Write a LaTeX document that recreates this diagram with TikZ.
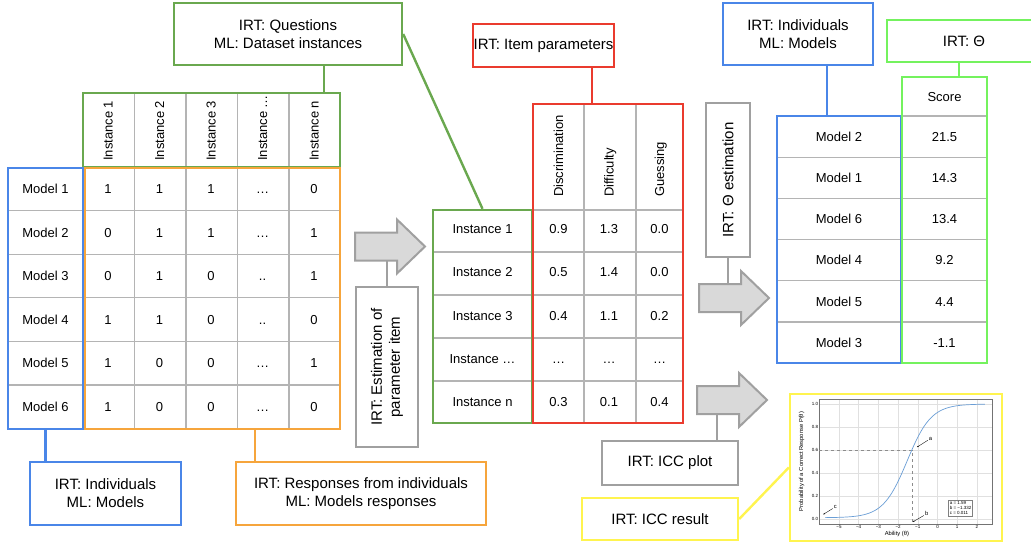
\documentclass[tikz,border=0pt]{standalone}
\usepackage{fontspec}
\setmainfont{Liberation Sans}
\usetikzlibrary{positioning,calc,arrows.meta}

\definecolor{dsgreen}{HTML}{6AA84F}
\definecolor{indblue}{HTML}{4A86E8}
\definecolor{resporange}{HTML}{F6A53C}
\definecolor{parred}{HTML}{EA3B2E}
\definecolor{scoregreen}{HTML}{74F25E}
\definecolor{iccyellow}{HTML}{FFF44F}
\definecolor{boxgray}{HTML}{A0A0A0}
\definecolor{arrowfill}{HTML}{D9D9D9}
\definecolor{gridgray}{HTML}{B4B4B4}
\definecolor{curveblue}{HTML}{6A9ED6}

\newcommand{\iccfont}{\fontsize{4.5}{5.2}\selectfont}
\newcommand{\iccaxisfont}{\fontsize{5.8}{7}\selectfont}
\newcommand{\twodot}{..}

\tikzset{%
	infobox/.style  = {draw, line width=2.4pt, fill=white, rectangle, align=center, inner sep=0pt, font=\fontsize{15}{18}\selectfont},
	tablebox/.style = {draw, line width=2.4pt, rectangle, inner sep=0pt},
	cell/.style     = {inner sep=0pt, text height=9.4pt, text depth=0pt, font=\fontsize{13}{15}\selectfont},
	icctext/.style  = {inner sep=1pt, font=\iccfont},
	iccaxis/.style  = {inner sep=1pt, font=\iccaxisfont},
	gridline/.style = {gridgray, line width=1.2pt},
	conn/.style     = {line width=2.4pt},
	iccgrid/.style  = {black!12, line width=0.4pt},
	arrowbody/.style= {draw=boxgray, fill=arrowfill, line width=2pt, line join=miter},
	bigarrow/.pic   = {
		\draw[arrowbody] (0,-14) -- (42,-14) -- (42,-27) -- (70,0) -- (42,27) -- (42,14) -- (0,14) -- cycle;
		\coordinate (-top) at (0,-14);
		\coordinate (-bot) at (0,14);
	},
}

\begin{document}
\begin{tikzpicture}[x=1pt,y=-1pt]
	\useasboundingbox (0,0) rectangle (1031,543);
	
	% left table: models x instances
	\foreach \gx in {134.5,186,237.5,289} \draw[gridline] (\gx,93) -- (\gx,429);
	\foreach \k in {1,...,5} \draw[gridline] (8,{167+43.6*\k}) -- (340,{167+43.6*\k});
	\node[tablebox, draw=dsgreen, minimum width=257, minimum height=74] (hdrL) at (211.5,130) {};
	\node[tablebox, draw=indblue, minimum width=75, minimum height=261] (modelsL) at (45.5,298.5) {};
	\node[tablebox, draw=resporange, minimum width=255, minimum height=261] (respL) at (212.5,298.5) {};
	
	\foreach \h [count=\i] in {Instance 1,Instance 2,Instance 3,Instance …,Instance n}
		\node[cell, rotate=90, anchor=west] (hL\i) at ({108+(\i-1)*51.5},161) {\h};
	\foreach \j in {1,...,6} \node[cell] (mL\j) at (45.5,{167+43.6*(\j-0.5)}) {Model \j};
	\foreach \row [count=\j] in {{1,1,1,…,0},{0,1,1,…,1},{0,1,0,\twodot,1},{1,1,0,\twodot,0},{1,0,0,…,1},{1,0,0,…,0}}
		\foreach \v [count=\i] in \row
			\node[cell] (dL\j\i) at ({108+(\i-1)*51.5},{167+43.6*(\j-0.5)}) {\v};
	
	% middle table: item parameters
	\foreach \gx in {584,636} \draw[gridline] (\gx,104) -- (\gx,423);
	\draw[gridline] (533,210) -- (683,210);
	\foreach \gy in {252,295,338,381} \draw[gridline] (433,\gy) -- (683,\gy);
	\node[tablebox, draw=dsgreen, minimum width=99, minimum height=213] (instL) at (482.5,316.5) {};
	\node[tablebox, draw=parred, minimum width=150, minimum height=319] (parR) at (608,263.5) {};
	
	\foreach \h [count=\i] in {Discrimination,Difficulty,Guessing}
		\node[cell, rotate=90, anchor=west] (hP\i) at ({558.5+(\i-1)*50.5},197) {\h};
	\foreach \h [count=\j] in {Instance 1,Instance 2,Instance 3,Instance …,Instance n}
		\node[cell] (iP\j) at (482.5,{229+(\j-1)*43.2}) {\h};
	\foreach \row [count=\j] in {{0.9,1.3,0.0},{0.5,1.4,0.0},{0.4,1.1,0.2},{…,…,…},{0.3,0.1,0.4}}
		\foreach \v [count=\i] in \row
			\node[cell] (dP\j\i) at ({558.5+(\i-1)*50.5},{229+(\j-1)*43.2}) {\v};
	
	% right table: abilities
	\draw[gridline] (902,116) -- (987,116);
	\foreach \k in {1,...,5} \draw[gridline] (777,{116+41.2*\k}) -- (987,{116+41.2*\k});
	\node[tablebox, draw=indblue, minimum width=124, minimum height=247] (modelsR) at (839,239.5) {};
	\node[tablebox, draw=scoregreen, minimum width=85, minimum height=286] (scoreR) at (944.5,220) {};
	\node[cell] (scoreHd) at (944.5,96.5) {Score};
	\foreach \m/\s [count=\j] in {2/21.5,1/14.3,6/13.4,4/9.2,5/4.4,3/-1.1} {
		\node[cell] (mR\j) at (839,{116+41.2*(\j-0.5)}) {Model \m};
		\node[cell] (sR\j) at (944.5,{116+41.2*(\j-0.5)}) {\s};
	}
	
	% labels
	\node[infobox, draw=dsgreen, minimum width=228, minimum height=62] (qlab) at (288,34) {IRT: Questions\\ML: Dataset instances};
	\node[infobox, draw=parred, minimum width=141, minimum height=43] (redlab) at (543.5,45.5) {IRT: Item parameters};
	\node[infobox, draw=indblue, minimum width=150, minimum height=62] (indlabR) at (798,34) {IRT: Individuals\\ML: Models};
	\node[infobox, draw=scoregreen, minimum width=154, minimum height=42] (thetalab) at (964,41) {IRT: Θ};
	\node[infobox, draw=indblue, minimum width=151, minimum height=63] (indlabL) at (105.5,493.5) {IRT: Individuals\\ML: Models};
	\node[infobox, draw=resporange, minimum width=250, minimum height=63] (resplab) at (361,493.5) {IRT: Responses from individuals\\ML: Models responses};
	\node[infobox, draw=boxgray, rotate=90, minimum width=160, minimum height=62] (estbox) at (387,367) {IRT: Estimation of\\parameter item};
	\node[infobox, draw=boxgray, rotate=90, minimum width=154, minimum height=44] (thetaest) at (728,180) {IRT: Θ estimation};
	\node[infobox, draw=boxgray, minimum width=136, minimum height=44] (iccplot) at (670,463) {IRT: ICC plot};
	\node[infobox, draw=iccyellow, minimum width=156, minimum height=42] (iccres) at (660,519) {IRT: ICC result};
	\node[infobox, draw=iccyellow, minimum width=212, minimum height=147] (iccbox) at (896,467.5) {};
	
	% arrows
	\pic (arrA) at (355,246.5) {bigarrow};
	\pic (arrB) at (699,298) {bigarrow};
	\pic (arrC) at (697,400) {bigarrow};
	
	% connectors
	\draw[conn, dsgreen] (qlab.south -| 324,0) -- (hdrL.north -| 324,0);
	\draw[conn, dsgreen] (qlab.east) -- (instL.north);
	\draw[conn, parred] (redlab.south -| 592,0) -- (parR.north -| 592,0);
	\draw[conn, indblue] (indlabR.south -| 827,0) -- (modelsR.north -| 827,0);
	\draw[conn, scoregreen] (thetalab.south -| 959,0) -- (scoreR.north -| 959,0);
	\draw[conn, indblue] (modelsL.south) -- (indlabL.north -| modelsL.south);
	\draw[conn, resporange] (respL.south -| 255,0) -- (resplab.north -| 255,0);
	\draw[conn, boxgray] (estbox.east) -- (estbox.east |- arrA-bot);
	\draw[conn, boxgray] (thetaest.west) -- (thetaest.west |- arrB-top);
	\draw[conn, boxgray] (iccplot.north -| 717,0) -- (arrC-bot -| 717,0);
	\draw[conn, iccyellow] (iccres.east) -- (iccbox.west);
	
	% item characteristic curve
	\begin{scope}[shift={(937.5,519)}, x=19.71pt, y=115pt]
		\foreach \gx in {-5,...,2} \draw[iccgrid] (\gx,-0.043) -- (\gx,1.043);
		\foreach \gy in {0,0.2,0.4,0.6,0.8,1} \draw[iccgrid] (-6,\gy) -- (2.76,\gy);
		\draw[black!55, line width=0.4pt] (-6,-0.043) rectangle (2.76,1.043);
		\foreach \gx/\lab in {-5/−5,-4/−4,-3/−3,-2/−2,-1/−1,0/0,1/1,2/2}
			\node[icctext, anchor=north] (xt\gx) at (\gx,-0.043) {\lab};
		\foreach \gy [count=\i] in {0.0,0.2,0.4,0.6,0.8,1.0}
			\node[icctext, anchor=east] (yt\i) at (-6,\gy) {\gy};
		\node[iccaxis, rotate=90] (ylab) at (-6.9,0.5) {Probability of a Correct Response P(θ)};
		\node[iccaxis] (xlab) at (-2.06,-0.13) {Ability (θ)};
		\draw[black!45, dashed, line width=0.4pt] (-6,0.6) -- (-1.3,0.6) -- (-1.3,-0.043);
		\draw[curveblue, line width=0.7pt, domain=-5.7:2.4, samples=100] plot (\x,{0.011+0.989/(1+exp(-1.64*(\x+1.54)))});
		\node[icctext, draw=black!50, fill=white, align=left, inner sep=1.2pt, line width=0.3pt] (legend) at (1.17,0.095) {a = 1.59\\b = −1.332\\c = 0.011};
		\node[iccaxis] (annA) at (-0.35,0.70) {a};
		\node[iccaxis] (annB) at (-0.55,0.045) {b};
		\node[iccaxis] (annC) at (-5.18,0.105) {c};
		\coordinate (tipA) at (-1.04,0.625);
		\coordinate (tipB) at (-1.25,-0.025);
		\coordinate (tipC) at (-5.8,0.04);
		\draw[-{Stealth[length=1.8pt]}, line width=0.35pt] (annA) -- (tipA);
		\draw[-{Stealth[length=1.8pt]}, line width=0.35pt] (annB) -- (tipB);
		\draw[-{Stealth[length=1.8pt]}, line width=0.35pt] (annC) -- (tipC);
	\end{scope}
\end{tikzpicture}
\end{document}
